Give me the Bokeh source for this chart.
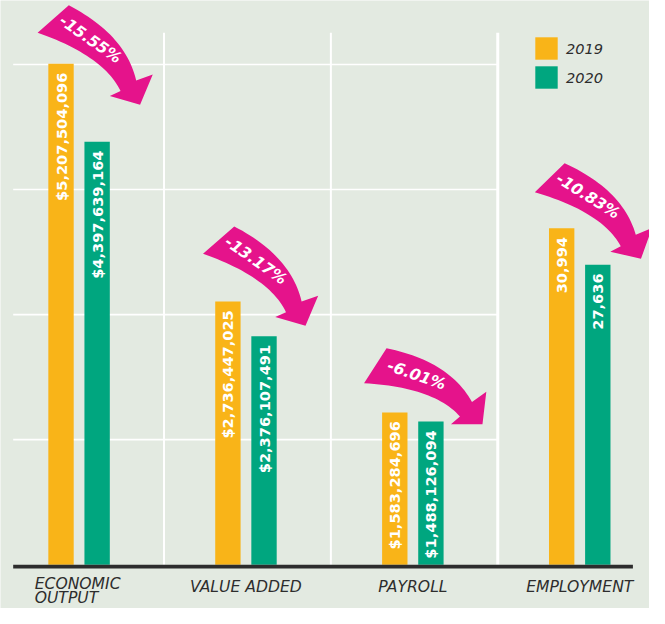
import numpy as np
from bokeh.plotting import figure
from bokeh.models import ColumnDataSource, Range1d, Legend, LegendItem
from bokeh.core.properties import value
from bokeh.embed import file_html
from bokeh.resources import INLINE

# ---------------- data ----------------
categories = ["ECONOMIC\nOUTPUT", "VALUE ADDED", "PAYROLL", "EMPLOYMENT"]
is_dollar = [True, True, True, False]
values_2019 = [5207504096, 2736447025, 1583284696, 30994]
values_2020 = [4397639164, 2376107491, 1488126094, 27636]
years = ["2019", "2020"]
grid_values = [1.3e9, 2.6e9, 3.9e9, 5.2e9]

# ---------------- style / layout ----------------
BG = "#e3eae1"
ORANGE = "#f9b418"
GREEN = "#00a67f"
PINK = "#e5138b"
INK = "#2d2d2d"
FONT = "DejaVu Sans"

W, H = 649, 608              # figure size
REF_W, REF_H = 665, 624      # design canvas (layout offsets below are in design px)
X0, X1 = -0.4708, 3.418
Y0, Y1 = -0.456e9, 5.866e9
E0, E1 = -4039, 51975
RPX = REF_W / (X1 - X0)      # design px per x unit
RPY = REF_H / (Y1 - Y0)      # design px per dollar
RPE = REF_H / (E1 - E0)      # design px per job
FS = W / REF_W               # font scale
ppu = [RPY if d else RPE for d in is_dollar]

def fpx(v):
    return f"{v * FS:.1f}px"

BAR_W = 26 / RPX
BAR_OFF = 18.5 / RPX

# arrow annotation layout (design px)
arrow_dx = [-42.5, -44, -50, -46]
arrow_lift = [32, 49, 30, 37]
arrow_tilt = [0, 0, -16, -3]

p = figure(width=W, height=H, x_range=Range1d(X0, X1), y_range=Range1d(Y0, Y1),
           output_backend="svg", toolbar_location=None, min_border=0,
           x_axis_location=None, y_axis_location=None,
           background_fill_color=BG, border_fill_color=BG, outline_line_color=None)
p.extra_y_ranges = {"emp": Range1d(E0, E1)}
p.grid.visible = False

idx = list(range(len(categories)))
left_edge = X0 + 13 / RPX
sep_x = [i + 0.5 + 1.5 / RPX for i in idx[:-1]]

# horizontal grid lines
p.segment(x0=[left_edge] * len(grid_values), x1=[sep_x[-1]] * len(grid_values),
          y0=grid_values, y1=grid_values, line_color="white", line_width=1.6)
# vertical separators
p.segment(x0=sep_x, x1=sep_x, y0=[0] * len(sep_x), y1=[546 / RPY] * len(sep_x),
          line_color="white", line_width=[2, 2, 3])

# bars
renderers = {}
for rng, sel in (("default", [i for i in idx if is_dollar[i]]), ("emp", [i for i in idx if not is_dollar[i]])):
    for yr, vals, col, off in (("2019", values_2019, ORANGE, -BAR_OFF), ("2020", values_2020, GREEN, BAR_OFF)):
        src = ColumnDataSource(dict(
            x=[i + off for i in sel],
            top=[vals[i] for i in sel],
            ty=[vals[i] - 9 / ppu[i] for i in sel],
            label=[(f"${vals[i]:,}" if is_dollar[i] else f"{vals[i]:,}") for i in sel],
        ))
        r = p.vbar(x="x", top="top", bottom=0, width=BAR_W, source=src, fill_color=col,
                   line_color=None, y_range_name=rng)
        p.text(x="x", y="ty", text="label", source=src, angle=np.pi / 2, text_align="right",
               text_baseline="middle", text_color="white", text_font=value(FONT),
               text_font_style="bold", text_font_size=fpx(15), y_range_name=rng)
        renderers.setdefault(yr, r)

# baseline
p.quad(left=[left_edge], right=[X1 - 17 / RPX], top=[0], bottom=[-4 / RPY], fill_color=INK, line_color=None)

# category labels
single = [i for i in idx if "\n" not in categories[i]]
multi = [i for i in idx if "\n" in categories[i]]
p.text(x=single, y=[-22.5 / RPY] * len(single), text=[categories[i] for i in single],
       text_align="center", text_baseline="middle", text_color=INK, text_font=value(FONT),
       text_font_style="italic", text_font_size=fpx(16))
p.text(x=[i - 45.5 / RPX for i in multi], y=[-11 / RPY] * len(multi), text=[categories[i] for i in multi],
       text_align="left", text_baseline="top", text_color=INK, text_font=value(FONT),
       text_font_style="italic", text_font_size=fpx(16), text_line_height=0.76)

# curved arrows
def qbez(p0, c, p1, n=28):
    t = np.linspace(0, 1, n)[:, None]
    return (1 - t) ** 2 * np.array(p0) + 2 * (1 - t) * t * np.array(c) + t ** 2 * np.array(p1)

inner = qbez((0, 0), (68, 24), (85, 60))
outer = qbez((32, -28), (90, 2), (101, 49))
template = np.vstack([inner, [(74, 65), (105, 74), (118, 43)], outer[::-1]])
text_rel = np.array([54.0, 7.0])
TEXT_ANG = 35

axs, ays, tx, ty, tang, ttxt = [], [], [], [], [], []
for i in idx:
    th = np.deg2rad(arrow_tilt[i])
    rot = np.array([[np.cos(th), -np.sin(th)], [np.sin(th), np.cos(th)]])
    top_px = values_2019[i] * ppu[i]
    pts = template @ rot.T
    X = arrow_dx[i] + pts[:, 0]
    Y = top_px + arrow_lift[i] - pts[:, 1]
    axs.append(i + X / RPX)
    ays.append(Y / RPY)
    tp = rot @ text_rel
    tx.append(i + (arrow_dx[i] + tp[0]) / RPX)
    ty.append((top_px + arrow_lift[i] - tp[1]) / RPY)
    tang.append(-np.deg2rad(TEXT_ANG + arrow_tilt[i]))
    pct = (values_2020[i] - values_2019[i]) / values_2019[i] * 100
    ttxt.append(f"{pct:.2f}%")

p.patches(xs=axs, ys=ays, fill_color=PINK, line_color=None)
p.text(x=tx, y=ty, text=ttxt, angle=tang, text_align="center", text_baseline="middle",
       text_color="white", text_font=value(FONT), text_font_style="bold italic", text_font_size=fpx(16))

# legend
legend = Legend(items=[LegendItem(label=y, renderers=[renderers[y]]) for y in years],
                location=(532, 517), orientation="vertical", glyph_width=28, glyph_height=28,
                label_height=28, spacing=1, padding=0, margin=0, label_standoff=6,
                label_text_font=FONT, label_text_font_style="italic", label_text_font_size=fpx(15),
                label_text_color=INK, border_line_color=None, background_fill_alpha=0)
p.add_layout(legend)

open("out.html", "w").write(file_html(p, INLINE))
